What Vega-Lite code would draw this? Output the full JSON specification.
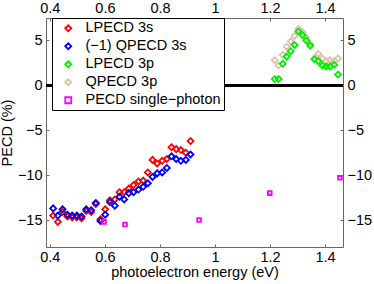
{
  "$schema": "https://vega.github.io/schema/vega-lite/v6.json",
  "width": 297,
  "height": 229,
  "autosize": {"type": "none"},
  "padding": {"left": 46, "top": 18, "right": 31, "bottom": 37},
  "background": "white",
  "config": {
    "view": {"stroke": null},
    "font": "Liberation Sans",
    "axis": {
      "domainColor": "#666666",
      "domainWidth": 1,
      "tickColor": "#666666",
      "tickSize": -3,
      "grid": false,
      "labelFont": "Liberation Sans",
      "labelFontSize": 14.5,
      "labelColor": "black",
      "titleFont": "Liberation Sans",
      "titleFontSize": 14.5,
      "titleFontWeight": "normal",
      "titleColor": "black"
    }
  },
  "datasets": {
    "pts": [
      {"e": 0.412, "v": -14.5, "s": "LPECD 3s"},
      {"e": 0.429, "v": -15.2, "s": "LPECD 3s"},
      {"e": 0.446, "v": -14.1, "s": "LPECD 3s"},
      {"e": 0.464, "v": -14.6, "s": "LPECD 3s"},
      {"e": 0.481, "v": -14.7, "s": "LPECD 3s"},
      {"e": 0.498, "v": -14.7, "s": "LPECD 3s"},
      {"e": 0.515, "v": -14.8, "s": "LPECD 3s"},
      {"e": 0.532, "v": -14.0, "s": "LPECD 3s"},
      {"e": 0.55, "v": -14.1, "s": "LPECD 3s"},
      {"e": 0.567, "v": -13.2, "s": "LPECD 3s"},
      {"e": 0.584, "v": -14.9, "s": "LPECD 3s"},
      {"e": 0.601, "v": -13.8, "s": "LPECD 3s"},
      {"e": 0.618, "v": -12.8, "s": "LPECD 3s"},
      {"e": 0.636, "v": -12.7, "s": "LPECD 3s"},
      {"e": 0.653, "v": -11.9, "s": "LPECD 3s"},
      {"e": 0.67, "v": -11.9, "s": "LPECD 3s"},
      {"e": 0.687, "v": -11.5, "s": "LPECD 3s"},
      {"e": 0.704, "v": -11.1, "s": "LPECD 3s"},
      {"e": 0.722, "v": -10.7, "s": "LPECD 3s"},
      {"e": 0.739, "v": -10.6, "s": "LPECD 3s"},
      {"e": 0.756, "v": -9.7, "s": "LPECD 3s"},
      {"e": 0.773, "v": -8.3, "s": "LPECD 3s"},
      {"e": 0.79, "v": -8.7, "s": "LPECD 3s"},
      {"e": 0.808, "v": -8.4, "s": "LPECD 3s"},
      {"e": 0.825, "v": -8.2, "s": "LPECD 3s"},
      {"e": 0.842, "v": -6.9, "s": "LPECD 3s"},
      {"e": 0.859, "v": -7.1, "s": "LPECD 3s"},
      {"e": 0.876, "v": -7.2, "s": "LPECD 3s"},
      {"e": 0.894, "v": -7.5, "s": "LPECD 3s"},
      {"e": 0.911, "v": -6.2, "s": "LPECD 3s"},
      {"e": 0.412, "v": -13.7, "s": "(−1) QPECD 3s"},
      {"e": 0.429, "v": -14.5, "s": "(−1) QPECD 3s"},
      {"e": 0.446, "v": -13.8, "s": "(−1) QPECD 3s"},
      {"e": 0.464, "v": -14.4, "s": "(−1) QPECD 3s"},
      {"e": 0.481, "v": -14.5, "s": "(−1) QPECD 3s"},
      {"e": 0.498, "v": -14.5, "s": "(−1) QPECD 3s"},
      {"e": 0.515, "v": -14.6, "s": "(−1) QPECD 3s"},
      {"e": 0.532, "v": -13.8, "s": "(−1) QPECD 3s"},
      {"e": 0.55, "v": -13.9, "s": "(−1) QPECD 3s"},
      {"e": 0.567, "v": -13.1, "s": "(−1) QPECD 3s"},
      {"e": 0.584, "v": -15.1, "s": "(−1) QPECD 3s"},
      {"e": 0.601, "v": -14.4, "s": "(−1) QPECD 3s"},
      {"e": 0.618, "v": -13.0, "s": "(−1) QPECD 3s"},
      {"e": 0.636, "v": -13.4, "s": "(−1) QPECD 3s"},
      {"e": 0.653, "v": -12.4, "s": "(−1) QPECD 3s"},
      {"e": 0.67, "v": -12.7, "s": "(−1) QPECD 3s"},
      {"e": 0.687, "v": -12.0, "s": "(−1) QPECD 3s"},
      {"e": 0.704, "v": -11.9, "s": "(−1) QPECD 3s"},
      {"e": 0.722, "v": -11.6, "s": "(−1) QPECD 3s"},
      {"e": 0.739, "v": -11.3, "s": "(−1) QPECD 3s"},
      {"e": 0.756, "v": -10.9, "s": "(−1) QPECD 3s"},
      {"e": 0.773, "v": -10.2, "s": "(−1) QPECD 3s"},
      {"e": 0.79, "v": -9.8, "s": "(−1) QPECD 3s"},
      {"e": 0.808, "v": -9.7, "s": "(−1) QPECD 3s"},
      {"e": 0.825, "v": -9.2, "s": "(−1) QPECD 3s"},
      {"e": 0.842, "v": -7.9, "s": "(−1) QPECD 3s"},
      {"e": 0.859, "v": -8.2, "s": "(−1) QPECD 3s"},
      {"e": 0.876, "v": -8.4, "s": "(−1) QPECD 3s"},
      {"e": 0.894, "v": -8.3, "s": "(−1) QPECD 3s"},
      {"e": 0.911, "v": -7.7, "s": "(−1) QPECD 3s"},
      {"e": 1.217, "v": 2.8, "s": "QPECD 3p"},
      {"e": 1.231, "v": 2.2, "s": "QPECD 3p"},
      {"e": 1.246, "v": 3.4, "s": "QPECD 3p"},
      {"e": 1.26, "v": 4.3, "s": "QPECD 3p"},
      {"e": 1.275, "v": 4.9, "s": "QPECD 3p"},
      {"e": 1.289, "v": 5.5, "s": "QPECD 3p"},
      {"e": 1.303, "v": 6.3, "s": "QPECD 3p"},
      {"e": 1.318, "v": 5.9, "s": "QPECD 3p"},
      {"e": 1.332, "v": 5.3, "s": "QPECD 3p"},
      {"e": 1.346, "v": 4.6, "s": "QPECD 3p"},
      {"e": 1.361, "v": 3.0, "s": "QPECD 3p"},
      {"e": 1.375, "v": 3.5, "s": "QPECD 3p"},
      {"e": 1.39, "v": 3.0, "s": "QPECD 3p"},
      {"e": 1.404, "v": 2.7, "s": "QPECD 3p"},
      {"e": 1.418, "v": 2.8, "s": "QPECD 3p"},
      {"e": 1.433, "v": 2.7, "s": "QPECD 3p"},
      {"e": 1.447, "v": 3.0, "s": "QPECD 3p"},
      {"e": 1.217, "v": 0.7, "s": "LPECD 3p"},
      {"e": 1.231, "v": 0.7, "s": "LPECD 3p"},
      {"e": 1.246, "v": 2.4, "s": "LPECD 3p"},
      {"e": 1.26, "v": 3.2, "s": "LPECD 3p"},
      {"e": 1.275, "v": 3.8, "s": "LPECD 3p"},
      {"e": 1.289, "v": 4.5, "s": "LPECD 3p"},
      {"e": 1.303, "v": 6.0, "s": "LPECD 3p"},
      {"e": 1.318, "v": 5.6, "s": "LPECD 3p"},
      {"e": 1.332, "v": 5.0, "s": "LPECD 3p"},
      {"e": 1.346, "v": 4.4, "s": "LPECD 3p"},
      {"e": 1.361, "v": 2.9, "s": "LPECD 3p"},
      {"e": 1.375, "v": 2.7, "s": "LPECD 3p"},
      {"e": 1.39, "v": 2.2, "s": "LPECD 3p"},
      {"e": 1.404, "v": 2.1, "s": "LPECD 3p"},
      {"e": 1.418, "v": 2.1, "s": "LPECD 3p"},
      {"e": 1.433, "v": 2.3, "s": "LPECD 3p"},
      {"e": 1.447, "v": 1.2, "s": "LPECD 3p"},
      {"e": 0.597, "v": -15.2, "s": "PECD single−photon"},
      {"e": 0.673, "v": -15.5, "s": "PECD single−photon"},
      {"e": 0.942, "v": -15.0, "s": "PECD single−photon"},
      {"e": 1.199, "v": -12.0, "s": "PECD single−photon"},
      {"e": 1.454, "v": -10.3, "s": "PECD single−photon"}
    ]
  },
  "data": {"name": "pts"},
  "layer": [
    {
      "mark": {"type": "rule", "color": "black", "strokeWidth": 2},
      "encoding": {
        "y": {"datum": 0, "type": "quantitative", "scale": {"domain": [-18, 7.5]}, "axis": null}
      }
    },
    {
      "mark": {"type": "point", "filled": false, "strokeWidth": 1.8, "opacity": 1},
      "encoding": {
        "x": {
          "field": "e", "type": "quantitative",
          "scale": {"domain": [0.386, 1.465], "nice": false, "zero": false},
          "axis": {"orient": "bottom", "values": [0.4, 0.6, 0.8, 1, 1.2, 1.4], "format": ".1~f", "labelPadding": 6, "title": "photoelectron energy (eV)", "titlePadding": 2}
        },
        "y": {
          "field": "v", "type": "quantitative",
          "scale": {"domain": [-18, 7.5], "nice": false, "zero": false},
          "axis": {"orient": "left", "values": [-15, -10, -5, 0, 5], "format": "d", "labelPadding": 7, "title": "PECD (%)", "titlePadding": 3}
        },
        "color": {
          "field": "s", "type": "nominal",
          "scale": {
            "domain": ["LPECD 3s", "(−1) QPECD 3s", "LPECD 3p", "QPECD 3p", "PECD single−photon"],
            "range": ["#ff0000", "#0000ff", "#00ee00", "#dcc3ab", "#ff00ff"]
          },
          "legend": {
            "orient": "none", "legendX": 6, "legendY": 0, "title": null,
            "direction": "vertical", "columns": 1,
            "fillColor": "white", "strokeColor": "black",
            "padding": 3, "symbolOffset": 6, "labelOffset": 10, "rowPadding": 3,
            "labelFont": "Liberation Sans", "labelFontSize": 14.5, "labelColor": "black",
            "symbolSize": 36, "symbolStrokeWidth": 1.8, "labelLimit": 300
          }
        },
        "shape": {
          "field": "s", "type": "nominal",
          "scale": {
            "domain": ["LPECD 3s", "(−1) QPECD 3s", "LPECD 3p", "QPECD 3p", "PECD single−photon"],
            "range": ["diamond", "diamond", "diamond", "diamond", "square"]
          }
        },
        "size": {
          "condition": {"test": "datum.s === 'PECD single−photon'", "value": 14},
          "value": 36
        }
      }
    },
    {
      "mark": {"type": "point", "opacity": 0},
      "encoding": {
        "x": {
          "field": "e", "type": "quantitative",
          "axis": {"orient": "top", "values": [0.4, 0.6, 0.8, 1, 1.2, 1.4], "format": ".1~f", "labelPadding": 6, "title": null}
        },
        "y": {
          "field": "v", "type": "quantitative",
          "axis": {"orient": "right", "values": [-15, -10, -5, 0, 5], "format": "d", "labelPadding": 7, "title": null}
        }
      }
    }
  ],
  "resolve": {"axis": {"x": "independent", "y": "independent"}}
}
